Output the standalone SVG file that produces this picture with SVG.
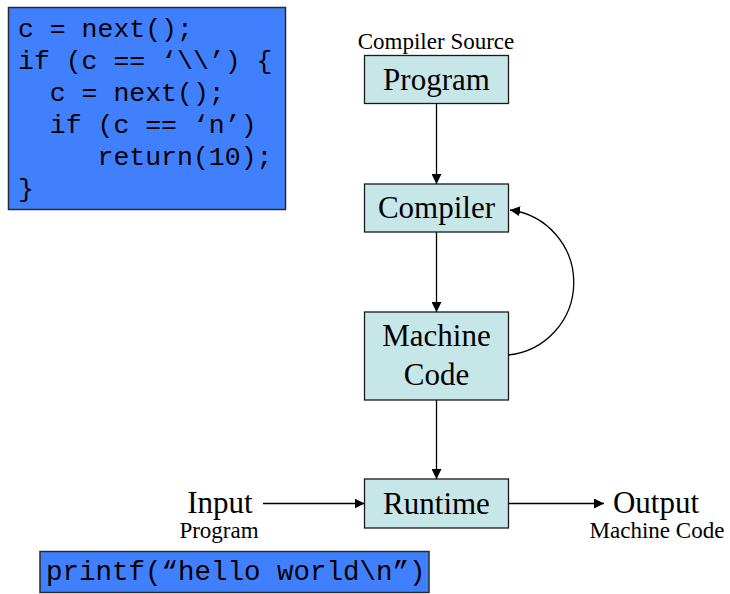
<svg xmlns="http://www.w3.org/2000/svg" width="730" height="594" viewBox="0 0 730 594">
  <style>
    .code-box { fill: #4080ff; stroke: #2a2a2a; stroke-width: 1.5; }
    .code { font-family: "Liberation Mono", "Courier New", monospace; fill: #000; }
    .node rect { fill: #c7e6e8; stroke: #1a1a1a; stroke-width: 1.3; }
    .lbl { font-family: "Liberation Serif", "Times New Roman", serif; fill: #000; text-anchor: middle; }
    .big { font-size: 31px; }
    .small { font-size: 23px; }
    .edge { fill: none; stroke: #000; stroke-width: 1.3; }
  </style>
  <defs>
    <marker id="arrow" viewBox="0 0 10 10" refX="10" refY="5" markerWidth="10" markerHeight="10" markerUnits="userSpaceOnUse" orient="auto">
      <path d="M0,0 L10,5 L0,10 Z" fill="#000"/>
    </marker>
  </defs>

  <rect width="730" height="594" fill="#fff"/>

  <!-- source snippet -->
  <g id="code-snippet">
    <rect class="code-box" x="8.5" y="7.5" width="277" height="202"/>
    <text class="code" font-size="26.5" xml:space="preserve">
      <tspan x="18" y="37">c = next();</tspan>
      <tspan x="18" y="69">if (c == ‘\\’) {</tspan>
      <tspan x="18" y="101">  c = next();</tspan>
      <tspan x="18" y="133">  if (c == ‘n’)</tspan>
      <tspan x="18" y="165">     return(10);</tspan>
      <tspan x="18" y="197">}</tspan>
    </text>
  </g>

  <!-- example input -->
  <g id="printf-snippet">
    <rect class="code-box" x="40" y="551.5" width="389" height="41"/>
    <text class="code" font-size="27.5" x="46" y="580" xml:space="preserve">printf(“hello world\n”)</text>
  </g>

  <g id="program">
    <text class="lbl small" x="436" y="49">Compiler Source</text>
    <g class="node">
      <rect x="364.5" y="55.5" width="144" height="48"/>
      <text class="lbl big" x="436.5" y="90">Program</text>
    </g>
  </g>

  <g id="compiler" class="node">
    <rect x="364.5" y="184" width="144" height="48"/>
    <text class="lbl big" x="436.5" y="218">Compiler</text>
  </g>

  <g id="machine-code" class="node">
    <rect x="364.5" y="312" width="144" height="88"/>
    <text class="lbl big" x="436.5" y="346">Machine</text>
    <text class="lbl big" x="436.5" y="385">Code</text>
  </g>

  <g id="runtime" class="node">
    <rect x="364.5" y="479" width="144" height="49"/>
    <text class="lbl big" x="436.5" y="514">Runtime</text>
  </g>

  <g id="input">
    <text class="lbl big" x="220" y="513">Input</text>
    <text class="lbl small" x="219" y="538">Program</text>
  </g>

  <g id="output">
    <text class="lbl big" x="656" y="513">Output</text>
    <text class="lbl small" x="657" y="538">Machine Code</text>
  </g>

  <g id="connectors">
    <line class="edge" x1="436.5" y1="103.5" x2="436.5" y2="184" marker-end="url(#arrow)"/>
    <line class="edge" x1="436.5" y1="232" x2="436.5" y2="312" marker-end="url(#arrow)"/>
    <line class="edge" x1="436.5" y1="400" x2="436.5" y2="479" marker-end="url(#arrow)"/>
    <line class="edge" x1="263" y1="503.5" x2="364.5" y2="503.5" marker-end="url(#arrow)"/>
    <line class="edge" x1="508.5" y1="503.5" x2="604" y2="503.5" marker-end="url(#arrow)"/>
    <path class="edge" d="M508.5,355 A73,73 0 0 0 510,210" marker-end="url(#arrow)"/>
  </g>
</svg>
